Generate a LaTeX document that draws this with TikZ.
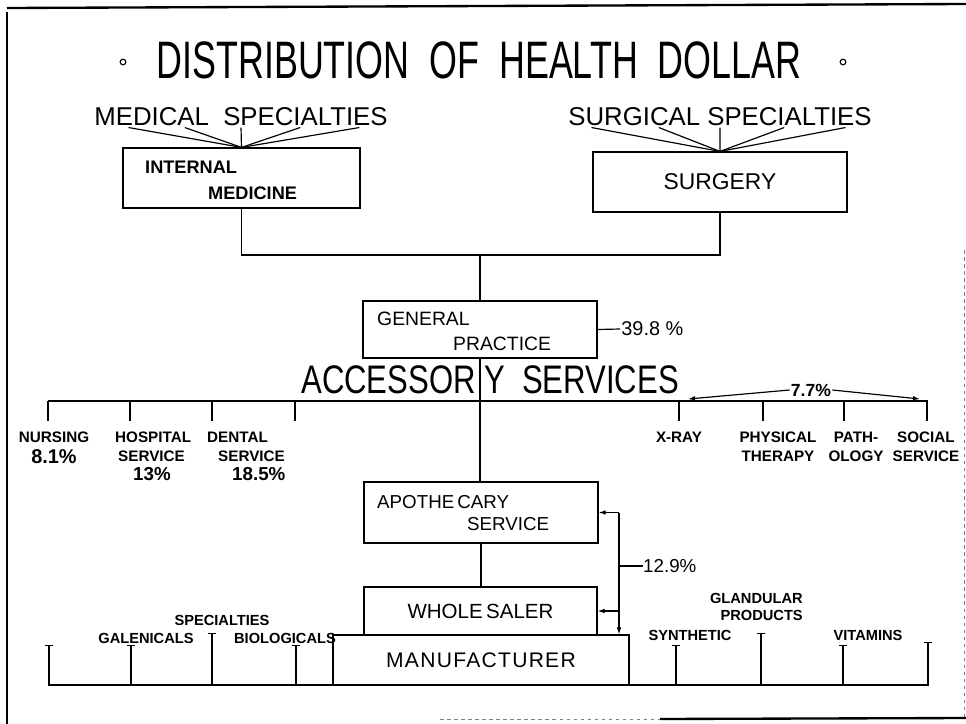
\documentclass[tikz,border=0pt]{standalone}
\usepackage{fontspec}
\setmainfont{Liberation Sans}
\usepackage{graphicx}
\usetikzlibrary{positioning,arrows.meta,calc}

\begin{document}
\begin{tikzpicture}[
    x=0.03cm, y=-0.03cm,
    box/.style={rectangle, draw, line width=1pt, inner sep=0pt},
    boxtext/.style={font=\fontsize{16.5}{18}\selectfont, inner sep=0pt, anchor=base west},
    heading/.style={font=\fontsize{22}{24}\selectfont, inner sep=1pt},
    tag/.style={font=\bfseries\fontsize{13}{16}\selectfont, inner sep=0pt, anchor=north},
    prod/.style={font=\bfseries\fontsize{12.5}{14}\selectfont, inner sep=0pt},
    pct/.style={font=\fontsize{16}{16}\selectfont, inner sep=1pt},
    link/.style={line width=1pt},
    arrow/.style={-{Latex[length=6pt,width=4pt]}, line width=1pt},
    tick/.style={line width=1pt, -{Bar[width=6pt,line width=1pt]}}
]
\useasboundingbox (0,0) rectangle (966,724);

% frame
\draw[line width=2.5pt] (7,12) -- (7,724);
\draw[line width=2pt] (7,8) -- (966,4);
\draw[line width=2pt] (660,719) -- (966,718);
\draw[gray, dashed, line width=0.5pt] (440,719) -- (660,719);
\draw[gray, dashed, line width=0.5pt] (964,250) -- (964,718);

% title
\node[inner sep=0pt] (title) at (479,60) {\scalebox{0.68}[1]{\fontsize{45}{45}\selectfont DISTRIBUTION\ \ OF\ \ HEALTH\ \ DOLLAR}};
\node[circle, draw, line width=1pt, inner sep=0pt, minimum size=0.17cm] (dotL) at (123,62) {};
\node[circle, draw, line width=1pt, inner sep=0pt, minimum size=0.17cm] (dotR) at (843,62) {};

% specialties
\node[heading] (medspec) at (241,117) {MEDICAL\ \ SPECIALTIES};
\node[heading] (surgspec) at (720,117) {SURGICAL\ SPECIALTIES};

\node[box, minimum width=7.11cm, minimum height=1.8cm] (intmed) at (241.5,178) {};
\node[boxtext, font=\bfseries\fontsize{15.5}{17}\selectfont] (intmedA) at (145,173) {INTERNAL};
\node[boxtext, font=\bfseries\fontsize{15.5}{17}\selectfont] (intmedB) at (208,199) {MEDICINE};
\node[box, minimum width=7.62cm, minimum height=1.8cm, font=\fontsize{19.5}{20}\selectfont] (surgery) at (720,182) {SURGERY};

\foreach \f in {0.12,0.31,0.5,0.7,0.9}
  \draw[link] ($(medspec.south west)!\f!(medspec.south east)$) -- (intmed.north);
\foreach \f in {0.08,0.3,0.5,0.71,0.91}
  \draw[link] ($(surgspec.south west)!\f!(surgspec.south east)$) -- (surgery.north);

% general practice
\node[box, minimum width=7.02cm, minimum height=1.71cm] (general) at (480,329.5) {};
\node[boxtext] (generalA) at (377,325) {GENERAL};
\node[boxtext] (generalB) at (453,350) {PRACTICE};
\node[pct, anchor=west, font=\fontsize{17}{17}\selectfont] (gppct) at (620,329) {39.8 \%};

\coordinate (join) at (480,255);
\draw[link] (intmed.south) |- (join) -| (surgery.south);
\draw[link] (join) -- (general.north);
\draw[link] (general.east) -- (gppct.west);

% accessory services
\node[inner sep=0pt, anchor=base east] (accA) at (476,393) {\scalebox{0.78}[1]{\fontsize{34}{34}\selectfont ACCESSOR}};
\node[inner sep=0pt, anchor=base west] (accB) at (484,393) {\scalebox{0.78}[1]{\fontsize{34}{34}\selectfont Y\ \ SERVICES}};

\coordinate (busL) at (48,401);
\coordinate (busR) at (928,401);
\draw[link] (busL) -- (busR);
\foreach \x in {48,130,212,295,679,763,844,927}
  \draw[link] (\x,401) -- (\x,421);

\node[tag, align=center] (nursing) at (54,432) {NURSING\\[2pt]{\fontsize{17}{17}\selectfont 8.1\%}};
\node[tag, anchor=north west, align=left] (hospital) at (115,432) {HOSPITAL\\\hspace*{0.09cm}SERVICE\\\hspace*{0.54cm}{\fontsize{16}{16}\selectfont 13\%}};
\node[tag, anchor=north west, align=left] (dental) at (207,432) {DENTAL\\\hspace*{0.33cm}SERVICE\\\hspace*{0.75cm}{\fontsize{16}{16}\selectfont 18.5\%}};
\node[tag] (xray) at (679,432) {X-RAY};
\node[tag, align=center] (physical) at (778,432) {PHYSICAL\\THERAPY};
\node[tag, align=center] (pathology) at (856,432) {PATH-\\OLOGY};
\node[tag, align=center] (social) at (926,432) {SOCIAL\\SERVICE};

\node[pct, font=\bfseries\fontsize{15}{15}\selectfont] (pctacc) at (811,390) {7.7\%};
\coordinate (accl) at (688,399);
\coordinate (accr) at (920,399);
\draw[arrow] (pctacc.west) -- (accl);
\draw[arrow] (pctacc.east) -- (accr);

% apothecary chain
\node[box, minimum width=7.02cm, minimum height=1.83cm] (apoth) at (481,512.5) {};
\node[boxtext, font=\fontsize{16}{18}\selectfont] (apothA) at (377,508) {APOTHE\,CARY};
\node[boxtext, font=\fontsize{16}{18}\selectfont] (apothB) at (467,530) {SERVICE};
\node[box, minimum width=6.99cm, minimum height=1.44cm, font=\fontsize{17.5}{18}\selectfont] (whole) at (480.5,611) {WHOLE\,SALER};
\node[box, minimum width=8.88cm, minimum height=1.5cm, font=\addfontfeature{LetterSpace=6}\fontsize{18}{20}\selectfont] (manuf) at (481,660) {MANUFACTURER};

\draw[link] (general.south) -- (general.south |- apoth.north);
\draw[link] (apoth.south) -- (apoth.south |- whole.north);

\coordinate (feedtop) at (619,512.5);
\node[pct, anchor=west, inner sep=0pt] (pctapo) at (643,566) {12.9\%};
\draw[arrow] (feedtop) -- (apoth.east);
\draw[arrow] (feedtop) -- (feedtop |- manuf.north);
\draw[arrow] (feedtop |- whole.east) -- (whole.east);
\draw[link] (feedtop |- pctapo.west) -- (pctapo.west);

% products
\coordinate (prodL) at (48,685);
\coordinate (prodR) at (929,685);
\draw[link] (prodL) -- (prodR);
\foreach \x/\t in {49/645,131/645,212/633,296/645,676/645,761/633,843/645,928/642}
  \draw[tick] (\x,685) -- (\x,\t);

\node[prod] (galen) at (146,638) {GALENICALS};
\node[prod] (special) at (222,620) {SPECIALTIES};
\node[prod] (bio) at (285,638) {BIOLOGICALS};
\node[prod] (synth) at (690,635) {SYNTHETIC};
\node[prod, align=right, anchor=east] (gland) at (803,607) {GLANDULAR\\PRODUCTS};
\node[prod] (vitamins) at (868,635) {VITAMINS};
\end{tikzpicture}
\end{document}
